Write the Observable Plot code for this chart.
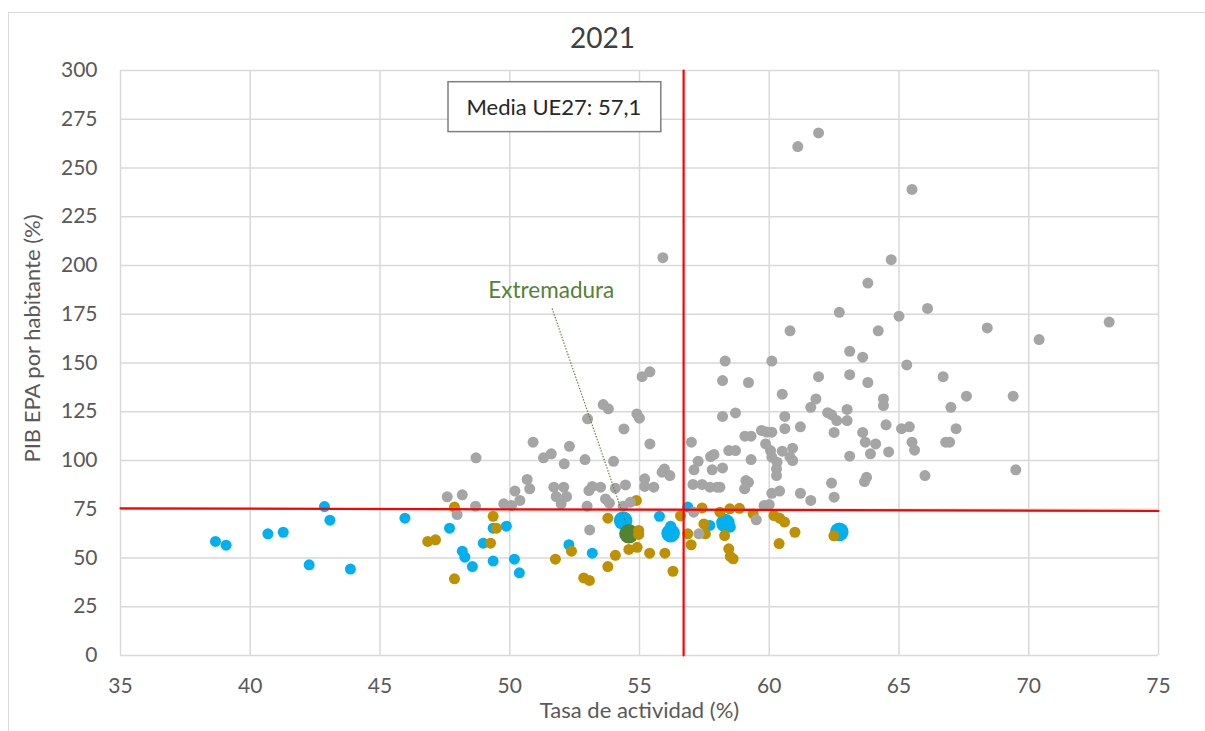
<!DOCTYPE html>
<html>
<head>
<meta charset="utf-8">
<script src="https://cdn.jsdelivr.net/npm/d3@7"></script>
<script src="https://cdn.jsdelivr.net/npm/@observablehq/plot@0.6"></script>
<style>
  html, body { margin: 0; padding: 0; background: #ffffff; }
  #wrap { position: relative; width: 1205px; height: 731px; overflow: hidden; }
  #frame { position: absolute; left: 8px; top: 12px; width: 1196px; height: 730px; border: 1px solid #d9d9d9; pointer-events: none; }
  #title { position: absolute; left: 0; top: 21px; width: 1205px; text-align: center; font-family: Lato, "Open Sans", sans-serif; font-size: 28px; line-height: 32px; color: #404040; }
</style>
</head>
<body>
<div id="wrap">
  <div id="chart"></div>
  <div id="title">2021</div>
  <div id="frame"></div>
</div>
<script>
// ---- Data ----
const xTicks = [35, 40, 45, 50, 55, 60, 65, 70, 75];
const yTicks = [0, 25, 50, 75, 100, 125, 150, 175, 200, 225, 250, 275, 300];

const grayX = [61.1,61.9,65.5,64.7,55.9,63.8,66.1,65.0,62.7,73.1,68.4,70.4,64.2,60.8,60.1,63.1,63.6,65.3,58.3,58.2,55.1,55.4,59.2,60.5,61.9,63.1,63.8,66.7,67.6,69.4,61.8,61.6,64.4,64.4,67.0,62.25,62.4,63.0,62.6,63.0,60.6,61.2,60.6,64.5,65.1,65.4,67.2,62.5,63.6,63.7,64.1,64.6,65.5,65.6,66.8,66.95,63.9,63.1,66.0,69.5,63.75,63.67,62.4,62.5,61.2,61.6,60.4,60.1,59.7,60.1,59.9,59.06,59.3,59.86,60.05,60.5,60.9,60.9,60.1,60.3,60.28,60.28,59.3,60.8,59.1,59.2,59.05,59.8,60.0,59.5,58.7,58.2,53.6,53.8,53.0,54.9,55.0,54.4,55.4,57.0,50.9,48.7,51.3,51.6,52.3,52.1,52.9,54.0,57.26,57.1,57.74,57.87,58.2,57.8,58.44,58.7,55.96,55.87,56.17,55.2,55.55,55.2,54.46,54.07,53.5,53.18,53.05,52.08,51.7,52.19,51.79,51.98,50.67,50.77,50.2,50.39,49.77,50.07,48.68,48.17,47.59,47.97,53.69,53.84,52.98,54.37,54.65,53.08,57.06,57.41,57.71,57.99,58.1,57.09,57.29];
const grayY = [261,268,239,203,204,191,178,174,176,171,168,162,166.5,166.5,151,156,153,149,151,141,143,145.5,140,134,143,144,140,143,133,133,131.6,127.3,131.6,128.2,127.3,124.5,123.5,126.2,120.5,120.5,122.6,117.3,116.3,118.3,116.3,117.3,116.3,114.4,114.4,109.4,108.5,104.4,109.4,105.3,109.4,109.4,103.4,102.2,92.3,95.2,91.4,89.2,88.4,81.2,83.2,79.5,84.3,83.2,115.4,114.5,114.6,112.5,112.5,108.5,105.1,104.8,106.3,100,101.7,99.1,95.7,92.3,100.5,101.7,89.7,88.8,85.5,76.9,77.4,69.6,124.4,122.6,128.7,126.5,121.4,123.9,121.7,116.2,108.5,109.4,109.4,101.4,101.4,103.4,107.3,98.3,100.5,99.6,99.6,95.2,102,103.1,96.2,95.2,105.1,105.1,95.7,94,92.3,90.6,86.3,86.7,87.5,85.8,86.3,86.7,84.6,86.3,86.3,81.5,81.5,77.8,90.3,85.5,84.3,79.5,77.8,76.9,76.6,82.4,81.4,72.3,80.3,78.1,76.6,76.6,78.6,64.4,87.7,87.7,86.3,86.3,86.3,73.5,62.4];

const blueX = [38.66,39.07,40.68,41.27,42.27,42.86,43.07,43.86,45.96,47.68,48.17,48.27,48.56,48.98,49.36,49.87,49.36,50.18,50.37,52.28,53.18,55.77,56.2,56.86,58.5,57.71];
const blueY = [58.5,56.6,62.4,63.2,46.5,76.4,69.4,44.3,70.4,65.3,53.5,50.4,45.6,57.6,65.3,66.3,48.4,49.4,42.4,56.8,52.5,71.4,66.3,76.1,65.8,66.7];

const bigBlueX = [54.37,56.2,58.31,62.7];
const bigBlueY = [69.2,62.7,67.9,63.4];

const goldX = [46.84,47.14,47.87,47.87,49.36,49.49,49.26,51.76,52.38,52.85,53.07,53.78,53.78,54.07,54.59,54.91,54.88,54.97,54.97,55.39,55.98,56.29,56.58,56.86,56.99,57.41,57.48,57.54,58.1,58.28,58.48,58.44,58.5,58.61,58.85,59.38,60.18,60.4,60.59,60.99,60.38,62.49];
const goldY = [58.5,59.3,76.1,39.3,71.4,65.3,57.6,49.4,53.5,39.8,38.5,70.4,45.6,51.4,54.4,55.5,79.5,64.1,62.1,52.5,52.5,43.2,71.6,62.4,56.8,75.7,67.5,62.4,73.5,61.5,75.2,54.7,50.8,49.6,75.5,72.6,71.8,70.4,68.4,63.2,57.4,61.4];

const extremaduraX = [54.59];
const extremaduraY = [62.4];

const meanVX = [56.7, 56.7];
const meanVY = [0, 300];
const meanHX = [35, 75];
const meanHY = [75.5, 74.1];

const meanLabel = "Media UE27: 57,1";
const extLabel = "Extremadura";
const xLabel = "Tasa de actividad (%)";
const yLabel = "PIB EPA por habitante (%)";

// ---- Build tables ----
const toRows = (xs, ys) => xs.map((x, i) => ({x, y: ys[i]}));
const gray = toRows(grayX, grayY);
const blue = toRows(blueX, blueY);
const bigBlue = toRows(bigBlueX, bigBlueY);
const gold = toRows(goldX, goldY);
const ext = toRows(extremaduraX, extremaduraY);
const vLine = toRows(meanVX, meanVY);
const hLine = toRows(meanHX, meanHY);

const font = "Lato, 'Open Sans', sans-serif";

const chart = Plot.plot({
  width: 1205,
  height: 731,
  marginLeft: 120,
  marginRight: 47,
  marginTop: 70,
  marginBottom: 76,
  x: {domain: [35, 75]},
  y: {domain: [0, 300]},
  style: {fontFamily: font, fontSize: "20px", color: "#595959", background: "white"},
  marks: [
    Plot.gridX(xTicks, {stroke: "#d9d9d9", strokeOpacity: 1, strokeWidth: 1.5}),
    Plot.gridY(yTicks, {stroke: "#d9d9d9", strokeOpacity: 1, strokeWidth: 1.5}),
    Plot.axisX(xTicks, {tickSize: 0, tickPadding: 23, label: null, fontSize: 21, fill: "#595959"}),
    Plot.axisY(yTicks, {tickSize: 0, tickPadding: 23, label: null, fontSize: 21, fill: "#595959"}),
    Plot.dot(bigBlue, {x: "x", y: "y", r: 9.3, fill: "#00b0f0"}),
    Plot.dot(ext, {x: "x", y: "y", r: 9.7, fill: "#548235"}),
    Plot.dot(blue, {x: "x", y: "y", r: 5.5, fill: "#00b0f0"}),
    Plot.dot(gold, {x: "x", y: "y", r: 5.5, fill: "#bf9000"}),
    Plot.dot(gray, {x: "x", y: "y", r: 5.5, fill: "#a5a5a5"}),
    Plot.line(vLine, {x: "x", y: "y", stroke: "#ff0000", strokeWidth: 2.2}),
    Plot.line(hLine, {x: "x", y: "y", stroke: "#ff0000", strokeWidth: 2.2}),
    Plot.link([0], {x1: 51.63, y1: 178, x2: 54.49, y2: 67.5, stroke: "#548235", strokeWidth: 1.1, strokeDasharray: "1.5,1.5"}),
    Plot.rect([0], {x1: 47.64, x2: 55.84, y1: 268.4, y2: 294, fill: "white", stroke: "#7f7f7f", strokeWidth: 1.5}),
    Plot.text([meanLabel], {x: 51.7, y: 281, text: d => d, fontSize: 22, fill: "#262626"}),
    Plot.text([extLabel], {x: 51.6, y: 187.2, text: d => d, fontSize: 22.5, fill: "#548235"}),
    Plot.text([xLabel], {frameAnchor: "bottom", dy: 62, text: d => d, fontSize: 22, fill: "#595959"}),
    Plot.text([yLabel], {frameAnchor: "left", textAnchor: "middle", rotate: -90, dx: -88, dy: -24.5, text: d => d, fontSize: 22, fill: "#595959"})
  ]
});

document.getElementById("chart").appendChild(chart);
</script>
</body>
</html>
